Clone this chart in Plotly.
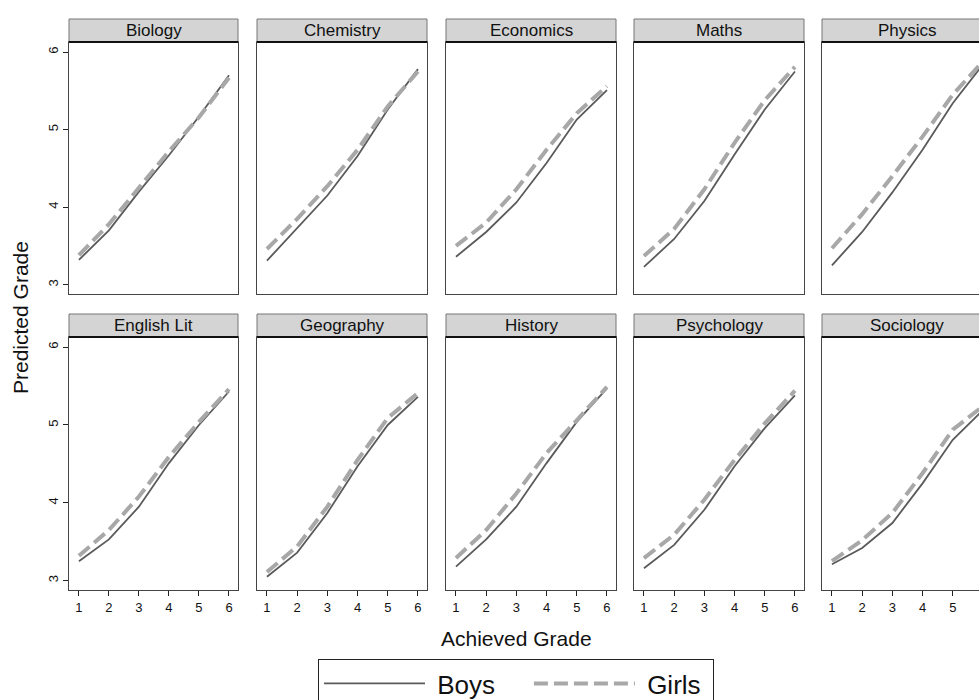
import plotly.graph_objects as go

# Predicted vs achieved grade, by subject and sex
grades = [1, 2, 3, 4, 5, 6]
subjects = ["Biology", "Chemistry", "Economics", "Maths", "Physics",
            "English Lit", "Geography", "History", "Psychology", "Sociology"]

boys_biology = [3.32, 3.70, 4.20, 4.67, 5.17, 5.70]
girls_biology = [3.38, 3.78, 4.25, 4.72, 5.16, 5.67]
boys_chemistry = [3.31, 3.73, 4.15, 4.66, 5.26, 5.78]
girls_chemistry = [3.46, 3.85, 4.27, 4.74, 5.30, 5.75]
boys_economics = [3.36, 3.68, 4.06, 4.57, 5.13, 5.51]
girls_economics = [3.50, 3.80, 4.23, 4.74, 5.21, 5.56]
boys_maths = [3.23, 3.59, 4.08, 4.68, 5.26, 5.75]
girls_maths = [3.37, 3.72, 4.23, 4.83, 5.38, 5.81]
boys_physics = [3.25, 3.68, 4.19, 4.74, 5.34, 5.84]
girls_physics = [3.47, 3.91, 4.40, 4.91, 5.45, 5.88]
boys_english = [3.25, 3.53, 3.95, 4.51, 5.00, 5.43]
girls_english = [3.32, 3.65, 4.08, 4.59, 5.04, 5.46]
boys_geography = [3.05, 3.36, 3.87, 4.47, 5.00, 5.36]
girls_geography = [3.11, 3.44, 3.95, 4.55, 5.09, 5.41]
boys_history = [3.18, 3.53, 3.95, 4.51, 5.04, 5.47]
girls_history = [3.29, 3.65, 4.12, 4.64, 5.06, 5.49]
boys_psychology = [3.16, 3.46, 3.91, 4.47, 4.96, 5.38]
girls_psychology = [3.29, 3.59, 4.04, 4.55, 5.02, 5.44]
boys_sociology = [3.21, 3.42, 3.74, 4.25, 4.81, 5.19]
girls_sociology = [3.25, 3.52, 3.87, 4.38, 4.94, 5.24]

boys = [boys_biology, boys_chemistry, boys_economics, boys_maths, boys_physics,
        boys_english, boys_geography, boys_history, boys_psychology, boys_sociology]
girls = [girls_biology, girls_chemistry, girls_economics, girls_maths, girls_physics,
         girls_english, girls_geography, girls_history, girls_psychology, girls_sociology]

y_ticks = [3, 4, 5, 6]

W, H = 1005, 715
FONT = "Liberation Sans, Arial, sans-serif"
BOYS_COLOR = "#5a5a5a"
GIRLS_COLOR = "#a8a8a8"
NB = "\u00a0"

# panel geometry in pixels (left, right) per column and (top, bottom) per row
col_px = [(69, 238), (257, 427), (446, 616), (634, 804), (822, 992)]
row_px = [(42, 294), (337, 590)]
strip_h = 23

fig = go.Figure()
shapes = []
annotations = []

for i, subj in enumerate(subjects):
    r, c = divmod(i, 5)
    n = i + 1
    xa = "x" if n == 1 else f"x{n}"
    ya = "y" if n == 1 else f"y{n}"
    fig.add_trace(go.Scatter(x=grades, y=boys[i], mode="lines",
                             name=NB + "Boys" + NB * 4,
                             line=dict(color=BOYS_COLOR, width=1.8),
                             showlegend=(i == 0), xaxis=xa, yaxis=ya))
    fig.add_trace(go.Scatter(x=grades, y=girls[i], mode="lines",
                             name=NB + "Girls" + NB,
                             line=dict(color=GIRLS_COLOR, width=4, dash="14px,6px"),
                             showlegend=(i == 0), xaxis=xa, yaxis=ya))

    l, rr = col_px[c]
    t, b = row_px[r]
    xd = [l / W, rr / W]
    yd = [(H - b) / H, (H - t) / H]
    fig.layout["xaxis" if n == 1 else f"xaxis{n}"] = dict(
        domain=xd, range=[0.67, 6.3], tickvals=grades,
        showticklabels=(r == 1), ticks="outside" if r == 1 else "",
        ticklen=5, tickcolor="#222", tickfont=dict(size=13, color="#111", family=FONT),
        showline=True, mirror=True, linecolor="#444", linewidth=1,
        showgrid=False, zeroline=False, anchor=ya)
    fig.layout["yaxis" if n == 1 else f"yaxis{n}"] = dict(
        domain=yd, range=[2.88, 6.13], tickvals=y_ticks,
        showticklabels=(c == 0), ticks="outside" if c == 0 else "",
        ticklen=5, tickcolor="#222", tickangle=-90,
        tickfont=dict(size=13, color="#111", family=FONT),
        showline=True, mirror=True, linecolor="#444", linewidth=1,
        showgrid=False, zeroline=False, anchor=xa)

    # facet strip
    st = t - strip_h
    shapes.append(dict(type="rect", xref="paper", yref="paper",
                       x0=l / W, x1=rr / W, y0=(H - t) / H, y1=(H - st) / H,
                       fillcolor="#d4d4d4", line=dict(color="#777", width=1), layer="above"))
    shapes.append(dict(type="line", xref="paper", yref="paper",
                       x0=l / W, x1=rr / W, y0=(H - t) / H, y1=(H - t) / H,
                       line=dict(color="#111", width=2), layer="above"))
    annotations.append(dict(text=subj, xref="paper", yref="paper",
                            x=(l + rr) / 2 / W, y=(H - (st + t) / 2) / H,
                            xanchor="center", yanchor="middle", showarrow=False,
                            font=dict(size=17, color="#111", family=FONT)))

annotations.append(dict(text="Achieved Grade", xref="paper", yref="paper",
                        x=516 / W, y=(H - 638) / H, xanchor="center", yanchor="middle",
                        showarrow=False, font=dict(size=21, color="#111", family=FONT)))
annotations.append(dict(text="Predicted Grade", xref="paper", yref="paper",
                        x=20 / W, y=(H - 318) / H, xanchor="center", yanchor="middle",
                        textangle=-90, showarrow=False,
                        font=dict(size=21, color="#111", family=FONT)))

fig.update_layout(
    width=W, height=H,
    margin=dict(l=0, r=0, t=0, b=0),
    paper_bgcolor="white", plot_bgcolor="white",
    font=dict(family=FONT, color="#111"),
    shapes=shapes, annotations=annotations,
    showlegend=True,
    legend=dict(orientation="h", x=516 / W, y=(H - 659) / H,
                xanchor="center", yanchor="top",
                bordercolor="#222", borderwidth=1, bgcolor="white",
                itemwidth=101, tracegroupgap=0,
                font=dict(size=26, color="#111", family=FONT)),
)

fig.write_html("out.html", post_script="document.body.style.overflow='hidden';document.body.style.margin='0';")
